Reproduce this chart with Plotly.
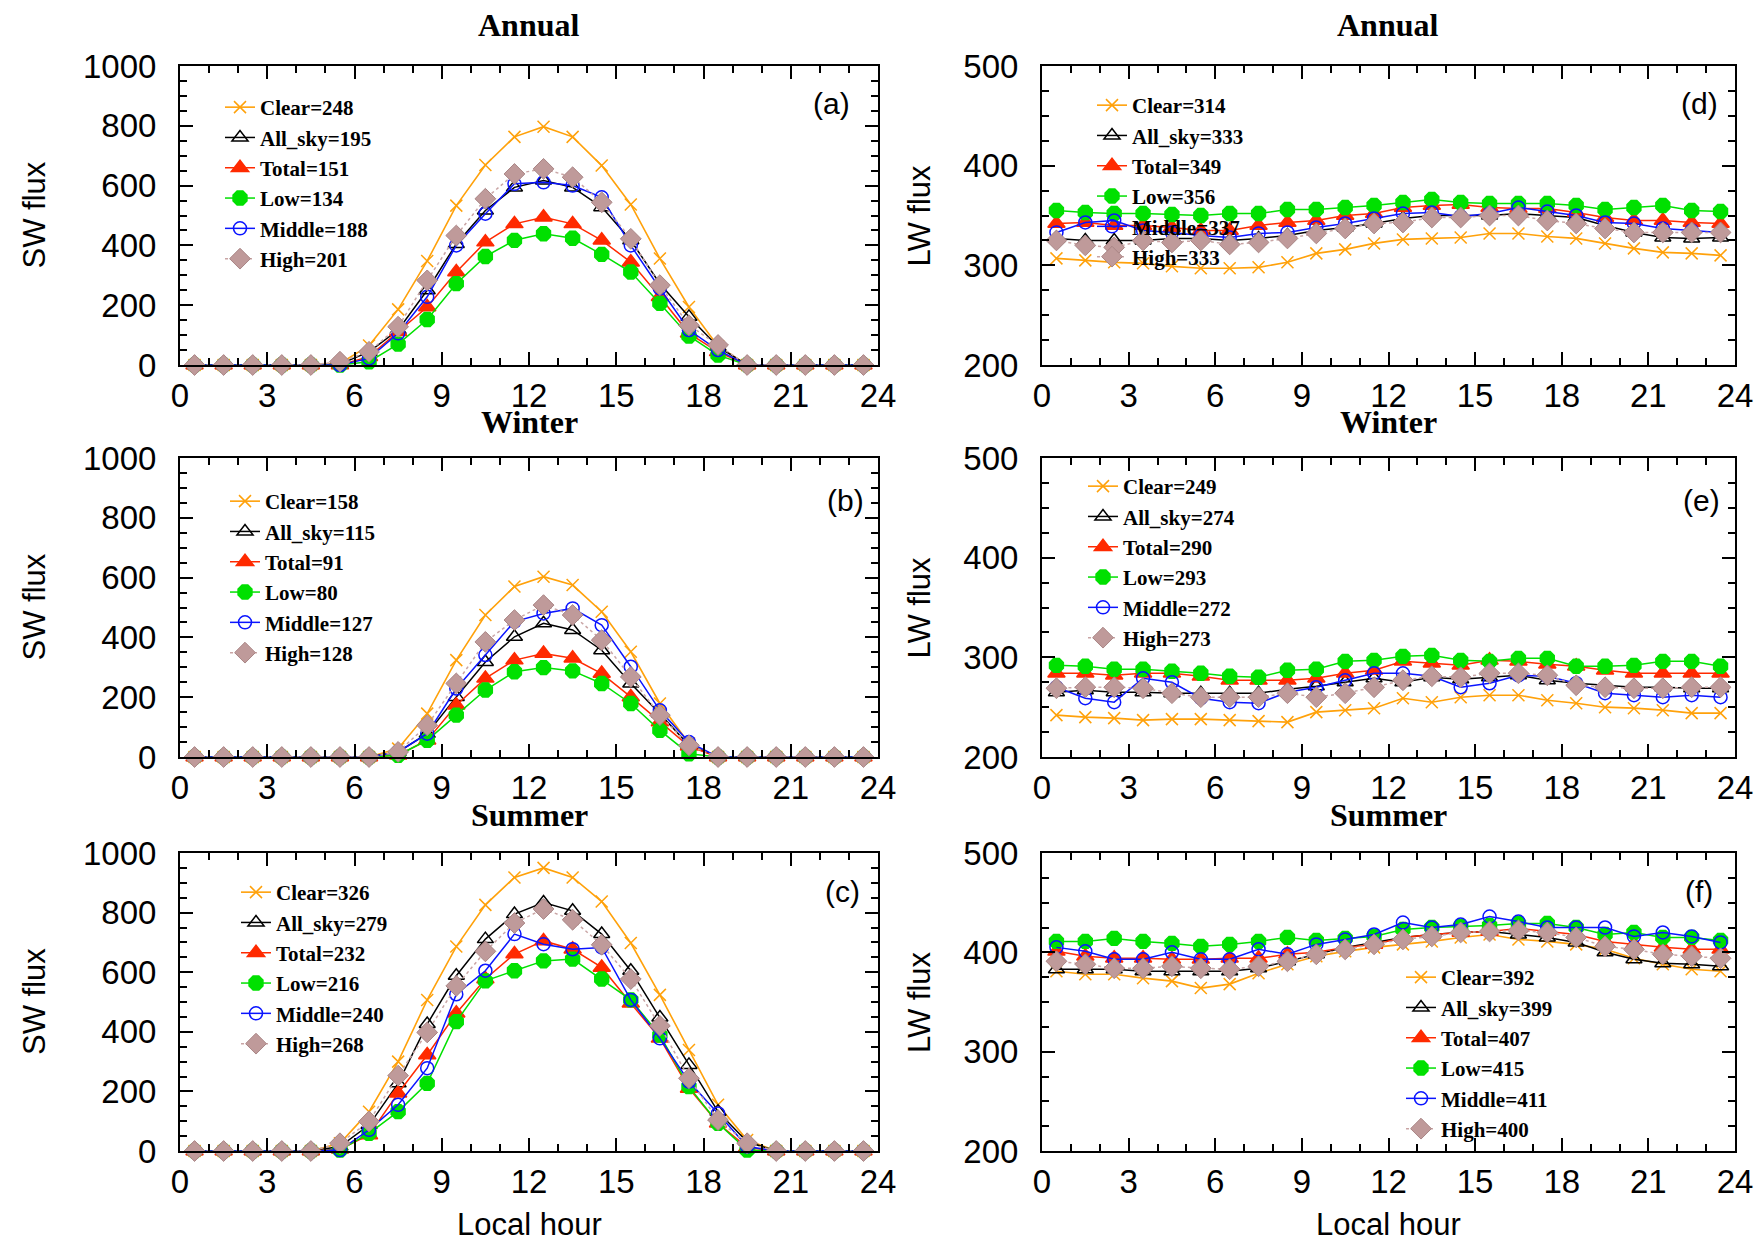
import plotly.graph_objects as go

# Local hour at the middle of each hourly bin
hours = [h + 0.5 for h in range(24)]
series_names = ["Clear", "All_sky", "Total", "Low", "Middle", "High"]

# ---- SW flux, Annual (a) ----
sw_annual_clear = [0, 0, 0, 0, 0, 5, 65, 186, 348, 533, 669, 763, 797, 763, 667, 537, 356, 194, 63, 0, 0, 0, 0, 0]
sw_annual_allsky = [0, 0, 0, 0, 0, 3, 44, 117, 250, 405, 517, 594, 617, 594, 528, 417, 272, 161, 61, 0, 0, 0, 0, 0]
sw_annual_total = [0, 0, 0, 0, 0, 0, 28, 111, 194, 311, 411, 472, 494, 472, 417, 344, 228, 106, 44, 0, 0, 0, 0, 0]
sw_annual_low = [0, 0, 0, 0, 0, 0, 11, 70, 152, 272, 363, 417, 439, 424, 370, 311, 206, 97, 33, 0, 0, 0, 0, 0]
sw_annual_middle = [0, 0, 0, 0, 0, 0, 22, 106, 228, 400, 506, 606, 611, 600, 561, 400, 256, 117, 50, 0, 0, 0, 0, 0]
sw_annual_high = [0, 0, 0, 0, 0, 11, 44, 128, 283, 433, 556, 639, 656, 628, 544, 422, 267, 133, 67, 0, 0, 0, 0, 0]
sw_annual_means = [248, 195, 151, 134, 188, 201]

# ---- SW flux, Winter (b) ----
sw_winter_clear = [0, 0, 0, 0, 0, 0, 0, 28, 145, 324, 475, 570, 603, 575, 486, 352, 179, 45, 0, 0, 0, 0, 0, 0]
sw_winter_allsky = [0, 0, 0, 0, 0, 0, 0, 17, 78, 201, 318, 402, 447, 425, 357, 246, 145, 39, 0, 0, 0, 0, 0, 0]
sw_winter_total = [0, 0, 0, 0, 0, 0, 0, 6, 56, 173, 263, 324, 346, 330, 279, 201, 117, 36, 0, 0, 0, 0, 0, 0]
sw_winter_low = [0, 0, 0, 0, 0, 0, 0, 6, 56, 140, 224, 285, 299, 288, 246, 179, 89, 11, 0, 0, 0, 0, 0, 0]
sw_winter_middle = [0, 0, 0, 0, 0, 0, 0, 17, 78, 229, 341, 453, 480, 497, 441, 302, 156, 50, 0, 0, 0, 0, 0, 0]
sw_winter_high = [0, 0, 0, 0, 0, 0, 0, 17, 106, 246, 385, 458, 508, 475, 391, 268, 140, 39, 0, 0, 0, 0, 0, 0]
sw_winter_means = [158, 115, 91, 80, 127, 128]

# ---- SW flux, Summer (c) ----
sw_summer_clear = [0, 0, 0, 0, 0, 26, 132, 300, 507, 686, 826, 918, 950, 918, 837, 698, 524, 339, 155, 37, 0, 0, 0, 0]
sw_summer_allsky = [0, 0, 0, 0, 0, 15, 87, 227, 426, 588, 711, 795, 834, 806, 728, 605, 448, 289, 132, 31, 0, 0, 0, 0]
sw_summer_total = [0, 0, 0, 0, 0, 6, 54, 194, 322, 462, 577, 661, 705, 677, 616, 496, 378, 210, 93, 12, 0, 0, 0, 0]
sw_summer_low = [0, 0, 0, 0, 0, 3, 59, 132, 227, 434, 571, 605, 638, 644, 577, 507, 389, 216, 93, 3, 0, 0, 0, 0]
sw_summer_middle = [0, 0, 0, 0, 0, 3, 71, 155, 278, 526, 605, 728, 694, 677, 683, 507, 378, 233, 126, 15, 0, 0, 0, 0]
sw_summer_high = [0, 0, 0, 0, 0, 26, 99, 253, 398, 554, 670, 765, 812, 776, 692, 577, 420, 244, 104, 26, 0, 0, 0, 0]
sw_summer_means = [326, 279, 232, 216, 240, 268]

# ---- LW flux, Annual (d) ----
lw_annual_clear = [307, 305, 303, 302, 299, 297, 297, 298, 303, 312, 316, 322, 326, 327, 328, 332, 332, 329, 327, 322, 317, 313, 312, 310]
lw_annual_allsky = [327, 325, 325, 325, 327, 327, 325, 327, 330, 335, 338, 342, 347, 350, 350, 350, 352, 350, 348, 340, 333, 328, 327, 328]
lw_annual_total = [342, 343, 340, 340, 338, 335, 335, 340, 343, 345, 350, 352, 358, 360, 361, 358, 357, 357, 353, 348, 345, 345, 343, 342]
lw_annual_low = [355, 353, 352, 352, 351, 350, 352, 352, 356, 356, 358, 360, 363, 366, 363, 362, 362, 362, 360, 356, 358, 360, 355, 354]
lw_annual_middle = [333, 343, 345, 335, 333, 330, 328, 332, 333, 338, 342, 347, 352, 353, 349, 352, 358, 354, 350, 343, 342, 337, 335, 333]
lw_annual_high = [325, 320, 318, 325, 323, 325, 321, 323, 327, 332, 337, 342, 343, 348, 348, 350, 350, 345, 342, 337, 333, 333, 333, 333]
lw_annual_means = [314, 333, 349, 356, 337, 333]

# ---- LW flux, Winter (e) ----
lw_winter_clear = [242, 240, 239, 237, 238, 238, 237, 236, 235, 245, 247, 249, 259, 255, 260, 262, 262, 257, 254, 250, 249, 247, 244, 244]
lw_winter_allsky = [265, 267, 265, 265, 264, 264, 264, 264, 268, 271, 275, 279, 275, 280, 278, 280, 282, 277, 274, 272, 270, 270, 269, 269]
lw_winter_total = [284, 284, 282, 284, 284, 281, 277, 277, 277, 279, 284, 287, 296, 294, 292, 297, 296, 293, 291, 287, 284, 284, 284, 284]
lw_winter_low = [292, 291, 288, 288, 286, 284, 281, 280, 287, 288, 296, 297, 301, 302, 297, 296, 299, 299, 291, 291, 292, 296, 296, 291]
lw_winter_middle = [270, 259, 255, 279, 275, 259, 255, 254, 265, 270, 277, 284, 284, 281, 270, 274, 282, 281, 274, 264, 262, 260, 262, 260]
lw_winter_high = [269, 270, 270, 269, 264, 260, 260, 260, 264, 260, 264, 270, 277, 281, 280, 284, 284, 282, 272, 270, 269, 269, 270, 270]
lw_winter_means = [249, 274, 290, 293, 272, 273]

# ---- LW flux, Summer (f) ----
lw_summer_clear = [381, 378, 378, 374, 371, 364, 368, 379, 388, 396, 401, 405, 408, 411, 415, 418, 413, 411, 408, 403, 394, 388, 383, 381]
lw_summer_allsky = [383, 383, 383, 381, 381, 381, 381, 384, 391, 398, 405, 410, 415, 418, 420, 421, 418, 415, 410, 400, 393, 389, 388, 386]
lw_summer_total = [401, 396, 394, 394, 393, 393, 394, 394, 398, 400, 405, 408, 415, 418, 420, 421, 424, 421, 418, 411, 408, 405, 403, 403]
lw_summer_low = [411, 411, 414, 411, 409, 406, 408, 411, 415, 412, 414, 416, 423, 425, 426, 427, 429, 429, 425, 418, 420, 415, 415, 412]
lw_summer_middle = [405, 401, 393, 393, 400, 393, 393, 403, 398, 408, 413, 418, 430, 425, 428, 436, 431, 425, 425, 425, 416, 420, 416, 410]
lw_summer_high = [391, 388, 384, 384, 386, 384, 383, 386, 391, 398, 403, 408, 413, 416, 420, 421, 422, 420, 415, 406, 403, 398, 396, 394]
lw_summer_means = [392, 399, 407, 415, 411, 400]

W, H = 1761, 1241


def fx(px):
    return px / W


def fy(py):
    return 1 - py / H


# marker / line style per series
styles = {
    "Clear": dict(symbol="x-thin", size=12, color="#FFA10A", lw=1.6, dash="solid"),
    "All_sky": dict(symbol="triangle-up-open", size=14, color="#000000", lw=1.5, dash="solid"),
    "Total": dict(symbol="triangle-up", size=15, color="#FF2A00", lw=1.5, dash="solid"),
    "Low": dict(symbol="octagon", size=15, color="#00E000", lw=1.5, dash="solid"),
    "Middle": dict(symbol="circle-open", size=13, color="#0A14FF", lw=1.5, dash="solid"),
    "High": dict(symbol="diamond", size=16, color="#BF9A9A", lw=1.5, dash="dot"),
}

panels = [
    # (axis suffix, series, means, legend id, legend anchor (px), panel label, label centre (px))
    ("", [sw_annual_clear, sw_annual_allsky, sw_annual_total, sw_annual_low, sw_annual_middle, sw_annual_high],
     sw_annual_means, "legend", (220, 87), "(a)", (831, 103)),
    ("2", [lw_annual_clear, lw_annual_allsky, lw_annual_total, lw_annual_low, lw_annual_middle, lw_annual_high],
     lw_annual_means, "legend2", (1092, 85), "(d)", (1699, 103)),
    ("3", [sw_winter_clear, sw_winter_allsky, sw_winter_total, sw_winter_low, sw_winter_middle, sw_winter_high],
     sw_winter_means, "legend3", (225, 481), "(b)", (845, 500)),
    ("4", [lw_winter_clear, lw_winter_allsky, lw_winter_total, lw_winter_low, lw_winter_middle, lw_winter_high],
     lw_winter_means, "legend4", (1083, 466), "(e)", (1701, 500)),
    ("5", [sw_summer_clear, sw_summer_allsky, sw_summer_total, sw_summer_low, sw_summer_middle, sw_summer_high],
     sw_summer_means, "legend5", (236, 872), "(c)", (842, 891)),
    ("6", [lw_summer_clear, lw_summer_allsky, lw_summer_total, lw_summer_low, lw_summer_middle, lw_summer_high],
     lw_summer_means, "legend6", (1401, 957), "(f)", (1699, 891)),
]

fig = go.Figure()

for suffix, series, means, leg, (lx, ly), lab, (tx, ty) in panels:
    for name, vals, mean in zip(series_names, series, means):
        st = styles[name]
        marker = dict(symbol=st["symbol"], size=st["size"], color=st["color"],
                      line=dict(color=st["color"], width=1.5))
        line_color = st["color"]
        if name == "High":
            marker["line"] = dict(color="#A98585", width=1)
            line_color = "#C9A5A5"
        fig.add_trace(go.Scatter(
            x=hours, y=vals, mode="lines+markers",
            name=f"{name}={mean}",
            line=dict(color=line_color, width=st["lw"], dash=st["dash"]),
            marker=marker,
            xaxis="x" + suffix, yaxis="y" + suffix,
            legend=leg, cliponaxis=False,
        ))
    fig.update_layout({leg: dict(
        x=fx(lx), y=fy(ly), xanchor="left", yanchor="top",
        bgcolor="rgba(0,0,0,0)", borderwidth=0, traceorder="normal",
        font=dict(family="Liberation Serif", size=21, color="black", weight="bold"),
        itemwidth=30, tracegroupgap=0,
    )})
    fig.add_annotation(x=fx(tx), y=fy(ty), xref="paper", yref="paper", text=lab, showarrow=False,
                       font=dict(family="Liberation Sans", size=30, color="black"),
                       xanchor="center", yanchor="middle")

# axis domains (px)
left_dom = [fx(180), fx(878)]
right_dom = [fx(1042), fx(1735)]
rows = [(66, 365), (458, 757), (853, 1151)]

tick_font = dict(family="Liberation Sans", size=33, color="black")


def xaxis_cfg(dom, anchor):
    return dict(domain=dom, anchor=anchor, range=[0, 24], tickmode="linear", tick0=0, dtick=3,
                ticks="inside", ticklen=13, tickwidth=1.5, tickcolor="black",
                minor=dict(dtick=1, ticklen=7, tickwidth=1.5, tickcolor="black", ticks="inside"),
                showline=True, linecolor="black", linewidth=2, mirror="allticks",
                showgrid=False, zeroline=False, tickfont=tick_font, ticklabelstandoff=0,
                automargin=False)


def yaxis_cfg(dom, anchor, rng, dt, mdt):
    return dict(domain=dom, anchor=anchor, range=rng, tickmode="linear", tick0=rng[0], dtick=dt,
                ticks="inside", ticklen=13, tickwidth=1.5, tickcolor="black",
                minor=dict(dtick=mdt, ticklen=7, tickwidth=1.5, tickcolor="black", ticks="inside"),
                showline=True, linecolor="black", linewidth=2, mirror="allticks",
                showgrid=False, zeroline=False, tickfont=tick_font, ticklabelstandoff=15,
                automargin=False)


layout_axes = {}
ax_ids = [("", 0, "L"), ("2", 0, "R"), ("3", 1, "L"), ("4", 1, "R"), ("5", 2, "L"), ("6", 2, "R")]
for suffix, r, side in ax_ids:
    top, bot = rows[r]
    ydom = [fy(bot), fy(top)]
    xdom = left_dom if side == "L" else right_dom
    layout_axes["xaxis" + suffix] = xaxis_cfg(xdom, "y" + suffix)
    if side == "L":
        layout_axes["yaxis" + suffix] = yaxis_cfg(ydom, "x" + suffix, [0, 1000], 200, 50)
    else:
        layout_axes["yaxis" + suffix] = yaxis_cfg(ydom, "x" + suffix, [200, 500], 100, 25)
fig.update_layout(**layout_axes)

# column titles and axis titles
title_font = dict(family="Liberation Serif", size=32, color="black", weight="bold")
label_font = dict(family="Liberation Sans", size=31, color="black")
for text, ty in [("Annual", 25), ("Winter", 422), ("Summer", 815)]:
    for cx in (529, 1388):
        fig.add_annotation(x=fx(cx), y=fy(ty), xref="paper", yref="paper", text=text,
                           showarrow=False, font=title_font, xanchor="center", yanchor="middle")
for top, bot in rows:
    cy = (top + bot) / 2
    fig.add_annotation(x=fx(34), y=fy(cy), xref="paper", yref="paper", text="SW flux", textangle=-90,
                       showarrow=False, font=label_font, xanchor="center", yanchor="middle")
    fig.add_annotation(x=fx(919), y=fy(cy), xref="paper", yref="paper", text="LW flux", textangle=-90,
                       showarrow=False, font=label_font, xanchor="center", yanchor="middle")
for cx in (529, 1388):
    fig.add_annotation(x=fx(cx), y=fy(1224), xref="paper", yref="paper", text="Local hour",
                       showarrow=False, font=label_font, xanchor="center", yanchor="middle")

fig.update_layout(template="none", width=W, height=H, margin=dict(l=0, r=0, t=0, b=0, autoexpand=False),
                  paper_bgcolor="white", plot_bgcolor="white", showlegend=True)

fig.write_html("out.html")
